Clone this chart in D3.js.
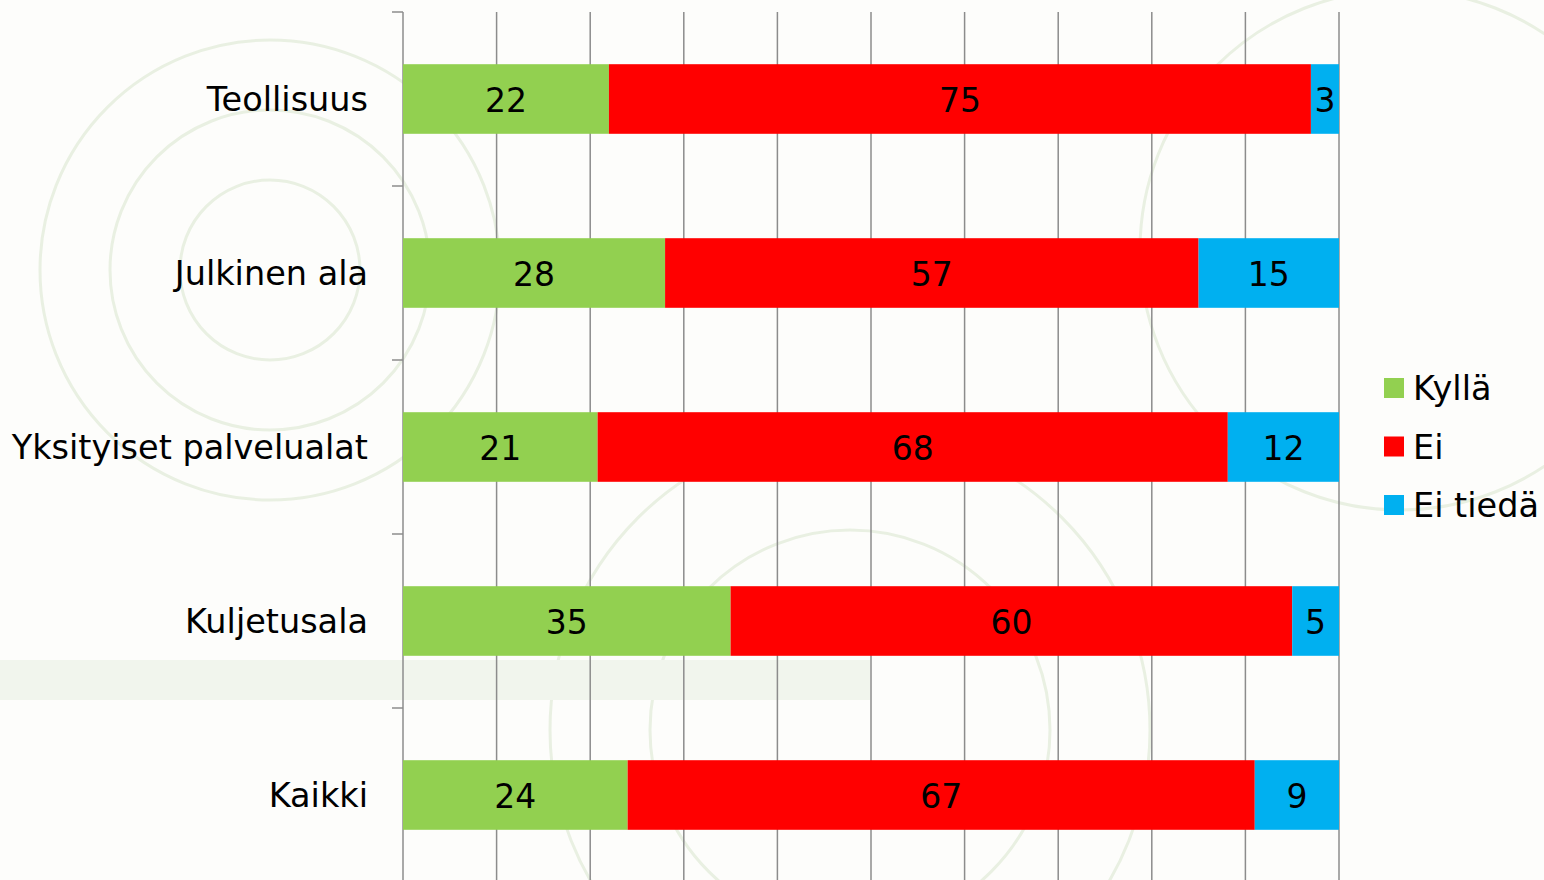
<!DOCTYPE html>
<html>
<head>
<meta charset="utf-8">
<script src="https://cdn.jsdelivr.net/npm/d3@7"></script>
<style>
  body { margin: 0; background: #fdfdfb; }
  svg { display: block; }
  text { font-family: "DejaVu Sans", sans-serif; }
</style>
</head>
<body>
<div id="place"></div>
<script>
// categories and series
const categories = ["Teollisuus", "Julkinen ala", "Yksityiset palvelualat", "Kuljetusala", "Kaikki"];
const seriesNames = ["Kyllä", "Ei", "Ei tiedä"];
const kylla = [22, 28, 21, 35, 24];
const ei = [75, 57, 68, 60, 67];
const eiTieda = [3, 15, 12, 5, 9];
const colors = ["#92D050", "#FF0000", "#00B0F0"];

const W = 1544, H = 880;
const svg = d3.select("#place").append("svg")
  .attr("width", W).attr("height", H);

// faint background decoration (watermark look)
const deco = svg.append("g").attr("fill", "none").attr("stroke", "#e9f0e2").attr("stroke-width", 3);
[[270, 270, 90], [270, 270, 160], [270, 270, 230], [850, 730, 200], [850, 730, 300], [1400, 250, 260]]
  .forEach(c => deco.append("circle").attr("cx", c[0]).attr("cy", c[1]).attr("r", c[2]));
deco.append("rect").attr("x", 0).attr("y", 660).attr("width", 870).attr("height", 40)
  .attr("fill", "#f1f5ed").attr("stroke", "none");

const table = categories.map((c, i) => ({ cat: c, "Kyllä": kylla[i], "Ei": ei[i], "Ei tiedä": eiTieda[i] }));

const stack = d3.stack().keys(seriesNames).offset(d3.stackOffsetExpand);
const layers = stack(table);

const x = d3.scaleLinear().domain([0, 1]).range([403, 1339]);
const y = d3.scaleBand().domain(categories).range([12, 882]).paddingInner(0.6).paddingOuter(0.3);
const yTicks = d3.scaleBand().domain(categories).range([12, 882]);

// gridlines
svg.append("g")
  .selectAll("line")
  .data(d3.range(0.1, 1.01, 0.1))
  .join("line")
  .attr("x1", d => x(d)).attr("x2", d => x(d))
  .attr("y1", 12).attr("y2", H)
  .attr("stroke", "#8c8c8c").attr("stroke-width", 1.5);

// left axis with band boundary ticks
const axisG = svg.append("g");
axisG.append("line")
  .attr("x1", 403).attr("x2", 403).attr("y1", 12).attr("y2", H)
  .attr("stroke", "#8c8c8c").attr("stroke-width", 1.5);
axisG.selectAll("line.tick")
  .data(categories)
  .join("line")
  .attr("class", "tick")
  .attr("x1", 392).attr("x2", 403)
  .attr("y1", d => yTicks(d)).attr("y2", d => yTicks(d))
  .attr("stroke", "#8c8c8c").attr("stroke-width", 1.5);

// bars
const groups = svg.append("g")
  .selectAll("g")
  .data(layers)
  .join("g")
  .attr("fill", (d, i) => colors[i]);

groups.selectAll("rect")
  .data(d => d)
  .join("rect")
  .attr("x", d => x(d[0]))
  .attr("width", d => x(d[1]) - x(d[0]))
  .attr("y", d => y(d.data.cat))
  .attr("height", y.bandwidth());

// value labels
svg.append("g")
  .selectAll("g")
  .data(layers)
  .join("g")
  .selectAll("text")
  .data(l => l.map(d => ({ d: d, key: l.key })))
  .join("text")
  .attr("x", o => (x(o.d[0]) + x(o.d[1])) / 2)
  .attr("y", o => y(o.d.data.cat) + y.bandwidth() / 2)
  .attr("dy", "0.38em")
  .attr("text-anchor", "middle")
  .attr("font-size", 33)
  .attr("fill", "#000")
  .text(o => o.d.data[o.key]);

// category labels
svg.append("g")
  .selectAll("text")
  .data(categories)
  .join("text")
  .attr("x", 368)
  .attr("y", d => y(d) + y.bandwidth() / 2)
  .attr("dy", "0.36em")
  .attr("text-anchor", "end")
  .attr("font-size", 33.5)
  .attr("fill", "#000")
  .text(d => d);

// legend
const legend = svg.append("g")
  .selectAll("g")
  .data(seriesNames)
  .join("g")
  .attr("transform", (d, i) => "translate(1384," + (388 + i * 58.5) + ")");
legend.append("rect")
  .attr("x", 0).attr("y", -10).attr("width", 20).attr("height", 20)
  .attr("fill", (d, i) => colors[i]);
legend.append("text")
  .attr("x", 29).attr("dy", "0.36em")
  .attr("font-size", 33.5)
  .attr("fill", "#000")
  .text(d => d);
</script>
</body>
</html>
